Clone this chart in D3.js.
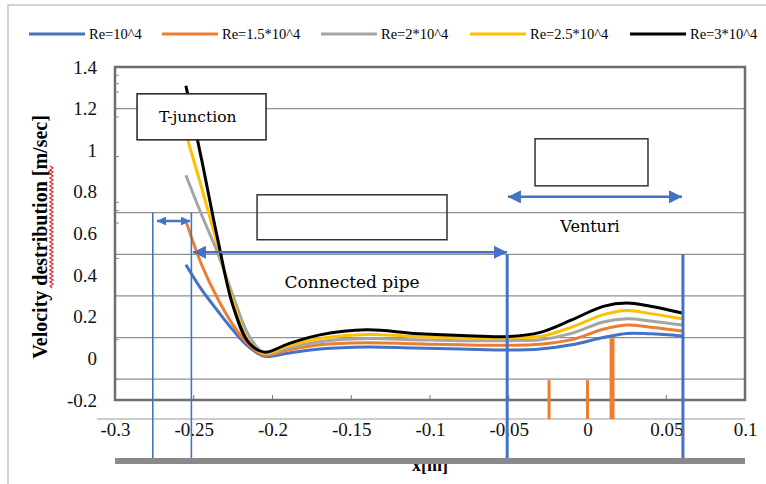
<!DOCTYPE html>
<html>
<head>
<meta charset="utf-8">
<script src="https://cdn.jsdelivr.net/npm/d3@7"></script>
<style>
body { margin: 0; background: #fff; }
</style>
</head>
<body>
<svg id="chart" width="766" height="484"></svg>
<script>

// position along the pipe [m]
var xPos = [-0.255, -0.245, -0.235, -0.225, -0.215, -0.205, -0.19, -0.17, -0.14, -0.11, -0.08, -0.05, -0.03, -0.01, 0.01, 0.025, 0.04, 0.06];

// velocity [m/sec] for each Reynolds number
var velRe1 = [0.45, 0.33, 0.23, 0.135, 0.055, 0.01, 0.025, 0.045, 0.055, 0.05, 0.045, 0.04, 0.045, 0.065, 0.10, 0.12, 0.118, 0.108];
var velRe15 = [0.66, 0.45, 0.29, 0.16, 0.065, 0.015, 0.04, 0.065, 0.075, 0.07, 0.065, 0.063, 0.068, 0.09, 0.14, 0.16, 0.15, 0.132];
var velRe2 = [0.88, 0.69, 0.51, 0.30, 0.11, 0.025, 0.05, 0.08, 0.095, 0.09, 0.085, 0.085, 0.09, 0.12, 0.175, 0.19, 0.18, 0.16];
var velRe25 = [1.08, 0.82, 0.55, 0.27, 0.08, 0.025, 0.06, 0.095, 0.115, 0.105, 0.10, 0.10, 0.105, 0.15, 0.21, 0.23, 0.215, 0.19];
var velRe3 = [1.31, 0.955, 0.58, 0.25, 0.075, 0.03, 0.07, 0.113, 0.137, 0.12, 0.11, 0.105, 0.125, 0.185, 0.25, 0.266, 0.25, 0.218];

var seriesNames = ['Re=10^4', 'Re=1.5*10^4', 'Re=2*10^4', 'Re=2.5*10^4', 'Re=3*10^4'];
var seriesColors = ['#4472c4', '#ed7d31', '#a5a5a5', '#ffc000', '#000000'];

var yTicks = [-0.2, 0, 0.2, 0.4, 0.6, 0.8, 1, 1.2, 1.4];
var xTicks = [-0.3, -0.25, -0.2, -0.15, -0.1, -0.05, 0, 0.05, 0.1];
var gridValues = [1.2, 0.7, 0.5, 0.3, 0.1, -0.1];
var minorTicks = [1.36, 1.32, 1.28, 1.16, 0.97, 0.75, 0.71, 0.65, 0.48, 0.09, -0.1];

// section markers (vertical lines) and the orange bars under the venturi
var sectionLines = [-0.276, -0.2515, -0.051, 0.0606];
var sectionTops = [0.7, 0.7, 0.5, 0.5];
var orangeBarX = [-0.0244, 0, 0.0156];
var orangeBarTop = [-0.105, -0.105, 0.097];

var SERIF = '"Liberation Serif", "Times New Roman", serif';
var BOOK = '"DejaVu Serif", serif';

var svg = d3.select('#chart');
var x = d3.scaleLinear().domain([-0.3, 0.1]).range([115, 745]);
var y = d3.scaleLinear().domain([-0.2, 1.4]).range([400, 67]);

var series = seriesNames.map(function(name, i) {
	var vals = [velRe1, velRe15, velRe2, velRe25, velRe3][i];
	return {name: name, color: seriesColors[i], values: xPos.map(function(d, j) { return {x: d, v: vals[j]}; })};
});

// plain hyphen numbers like the spreadsheet does, no unicode minus
function plainNumber(d) {
	return String(+d.toFixed(2));
}

// outer frame of the figure
svg.append('rect')
	.attr('x', 8).attr('y', 5).attr('width', 800).attr('height', 520)
	.attr('fill', 'none').attr('stroke', '#c4c4c4').attr('stroke-width', 1.5);

// legend
var legend = svg.append('g');
var legendX = [29, 162, 321, 470, 630];
series.forEach(function(s, i) {
	legend.append('line')
		.attr('x1', legendX[i]).attr('x2', legendX[i] + 56)
		.attr('y1', 34).attr('y2', 34)
		.attr('stroke', s.color).attr('stroke-width', 3);
	legend.append('text')
		.attr('x', legendX[i] + 60).attr('y', 39)
		.style('font-family', SERIF).style('font-size', '14.5px')
		.text(s.name);
});

// grid
svg.append('g').selectAll('line')
	.data(gridValues).enter().append('line')
	.attr('x1', x(-0.3)).attr('x2', x(0.1))
	.attr('y1', function(d) { return y(d); })
	.attr('y2', function(d) { return y(d); })
	.attr('stroke', '#8f8f8f').attr('stroke-width', 1.2);

// minor ticks on the left border
svg.append('g').selectAll('line')
	.data(minorTicks).enter().append('line')
	.attr('x1', x(-0.3)).attr('x2', x(-0.3) + 4)
	.attr('y1', function(d) { return y(d); })
	.attr('y2', function(d) { return y(d); })
	.attr('stroke', '#8f8f8f').attr('stroke-width', 1);

// ticks on the bottom border, pointing inward
svg.append('g').selectAll('line')
	.data(xTicks).enter().append('line')
	.attr('x1', function(d) { return x(d); })
	.attr('x2', function(d) { return x(d); })
	.attr('y1', y(-0.2)).attr('y2', y(-0.2) - 5)
	.attr('stroke', '#777').attr('stroke-width', 1);

// plot border
svg.append('rect')
	.attr('x', x(-0.3)).attr('y', y(1.4))
	.attr('width', x(0.1) - x(-0.3)).attr('height', y(-0.2) - y(1.4))
	.attr('fill', 'none').attr('stroke', '#6e6e6e').attr('stroke-width', 2.5);

// velocity curves
var line = d3.line()
	.x(function(d) { return x(d.x); })
	.y(function(d) { return y(d.v); })
	.curve(d3.curveCatmullRom.alpha(0.5));

svg.append('g').selectAll('path')
	.data(series).enter().append('path')
	.attr('d', function(d) { return line(d.values); })
	.attr('fill', 'none')
	.attr('stroke', function(d) { return d.color; })
	.attr('stroke-width', 3)
	.attr('stroke-linejoin', 'round');

// y axis labels
var yAxis = d3.axisLeft(y).tickValues(yTicks).tickSize(0).tickPadding(18).tickFormat(plainNumber);
var gy = svg.append('g').attr('transform', 'translate(' + x(-0.3) + ',0)').call(yAxis);
gy.select('.domain').remove();
gy.selectAll('text').style('font-family', SERIF).style('font-size', '19px').attr('fill', '#111');

// y title, with the spell-check squiggle under "destribution"
svg.append('text')
	.attr('transform', 'translate(47,' + 237 + ') rotate(-90)')
	.attr('text-anchor', 'middle')
	.style('font-family', SERIF).style('font-size', '20px').style('font-weight', 'bold')
	.text('Velocity destribution [m/sec]');

var wave = d3.path();
wave.moveTo(52, 288);
for (var k = 288; k > 166; k -= 2) {
	wave.lineTo((k % 4 === 0) ? 50 : 53, k - 2);
}
svg.append('path').attr('d', wave.toString())
	.attr('fill', 'none').attr('stroke', '#e02020').attr('stroke-width', 1.2);

// annotation boxes
svg.append('rect')
	.attr('x', x(-0.286)).attr('y', y(1.271))
	.attr('width', x(-0.2041) - x(-0.286)).attr('height', y(1.05) - y(1.271))
	.attr('fill', '#fff').attr('stroke', '#222').attr('stroke-width', 1.5);
svg.append('text')
	.attr('x', x(-0.2475)).attr('y', y(1.16) + 5)
	.attr('text-anchor', 'middle')
	.style('font-family', BOOK).style('font-size', '15.5px')
	.text('T-junction');

svg.append('rect')
	.attr('x', x(-0.2098)).attr('y', y(0.786))
	.attr('width', x(-0.0892) - x(-0.2098)).attr('height', y(0.57) - y(0.786))
	.attr('fill', 'none').attr('stroke', '#333').attr('stroke-width', 1.5);

svg.append('rect')
	.attr('x', x(-0.0333)).attr('y', y(1.055))
	.attr('width', x(0.0384) - x(-0.0333)).attr('height', y(0.829) - y(1.055))
	.attr('fill', 'none').attr('stroke', '#333').attr('stroke-width', 1.5);

// arrow heads
var defs = svg.append('defs');
function addArrowHead(id, size) {
	defs.append('marker')
		.attr('id', id)
		.attr('markerUnits', 'userSpaceOnUse')
		.attr('markerWidth', size).attr('markerHeight', size)
		.attr('viewBox', '0 0 12 12')
		.attr('refX', 12).attr('refY', 6)
		.attr('orient', 'auto-start-reverse')
		.append('path').attr('d', 'M0,0 L12,6 L0,12 Z').attr('fill', '#4472c4');
}
addArrowHead('head', 13);
addArrowHead('headSmall', 9);

function drawArrow(x0, x1, v, width, head) {
	svg.append('line')
		.attr('x1', x(x0)).attr('x2', x(x1))
		.attr('y1', y(v)).attr('y2', y(v))
		.attr('stroke', '#4472c4').attr('stroke-width', width)
		.attr('marker-start', 'url(#' + head + ')')
		.attr('marker-end', 'url(#' + head + ')');
}
drawArrow(-0.0505, 0.06, 0.776, 2.5, 'head');
drawArrow(-0.2505, -0.0511, 0.51, 2.5, 'head');
drawArrow(-0.2733, -0.2524, 0.66, 2.5, 'headSmall');

svg.append('text')
	.attr('x', x(0.0016)).attr('y', y(0.632) + 5)
	.attr('text-anchor', 'middle')
	.style('font-family', BOOK).style('font-size', '16px')
	.text('Venturi');

svg.append('text')
	.attr('x', x(-0.1495)).attr('y', y(0.367) + 6)
	.attr('text-anchor', 'middle')
	.style('font-family', BOOK).style('font-size', '17px')
	.text('Connected pipe');

// thin second axis line under the plot, with the x labels
var axisY = 419;
svg.append('line')
	.attr('x1', x(-0.3) - 18).attr('x2', x(0.1))
	.attr('y1', axisY).attr('y2', axisY)
	.attr('stroke', '#999').attr('stroke-width', 1.2);

var xAxis = d3.axisBottom(x).tickValues(xTicks).tickSize(0).tickPadding(3).tickFormat(plainNumber);
var gx = svg.append('g').attr('transform', 'translate(0,' + axisY + ')').call(xAxis);
gx.select('.domain').remove();
gx.selectAll('text').style('font-family', SERIF).style('font-size', '19px').attr('fill', '#111');

// orange bars
svg.append('g').selectAll('line')
	.data(orangeBarX).enter().append('line')
	.attr('x1', function(d) { return x(d); })
	.attr('x2', function(d) { return x(d); })
	.attr('y1', function(d, i) { return y(orangeBarTop[i]); })
	.attr('y2', axisY)
	.attr('stroke', '#ed7d31')
	.attr('stroke-width', function(d, i) { return i === 2 ? 5 : 3; });

// x title sits under the grey bar
svg.append('text')
	.attr('x', 430).attr('y', 471)
	.attr('text-anchor', 'middle')
	.style('font-family', SERIF).style('font-size', '18px').style('font-weight', 'bold')
	.text('x[m]');

var barY = 461;

// section lines
svg.append('g').selectAll('line')
	.data(sectionLines).enter().append('line')
	.attr('x1', function(d) { return x(d); })
	.attr('x2', function(d) { return x(d); })
	.attr('y1', function(d, i) { return y(sectionTops[i]); })
	.attr('y2', barY)
	.attr('stroke', '#4472c4')
	.attr('stroke-width', function(d, i) { return i < 2 ? 1.6 : 3; });

svg.append('line')
	.attr('x1', x(-0.3)).attr('x2', x(0.1))
	.attr('y1', barY).attr('y2', barY)
	.attr('stroke', '#8a8a8a').attr('stroke-width', 6);

</script>
</body>
</html>
